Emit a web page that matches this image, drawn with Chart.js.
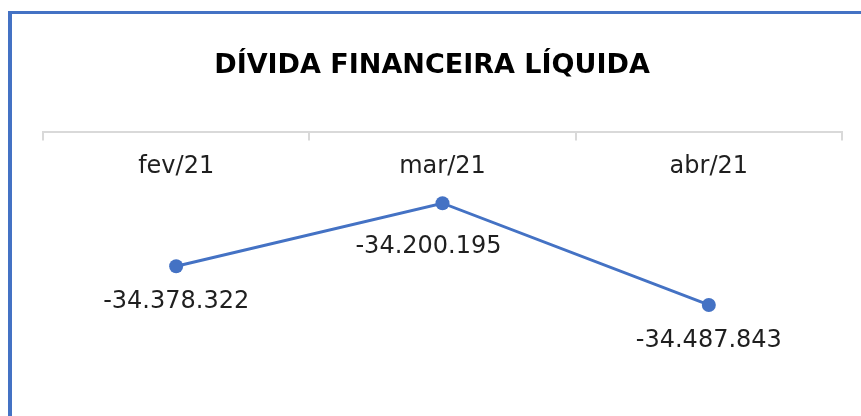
<!DOCTYPE html>
<html lang="pt-BR">
<head>
<meta charset="utf-8">
<title>Dívida Financeira Líquida</title>
<script src="https://cdn.jsdelivr.net/npm/chart.js@4.4.1/dist/chart.umd.min.js"></script>
<style>
  html, body { margin: 0; padding: 0; background: #fff; overflow: hidden; }
  #frame {
    position: absolute;
    left: 8px;
    top: 11px;
    width: 1000px;
    height: 600px;
    border-left: 4px solid #4472c4;
    border-top: 3px solid #4472c4;
  }
  #chart { position: absolute; left: 0; top: 0; }
</style>
</head>
<body>
<div id="frame"></div>
<canvas id="chart" width="861" height="416"></canvas>
<script>
const chartTitle = "DÍVIDA FINANCEIRA LÍQUIDA";
const months = ["fev/21", "mar/21", "abr/21"];
const netDebt = [-34378322, -34200195, -34487843];

// pt-BR style number: -34.378.322
function formatNumber(v) {
  const sign = v < 0 ? "-" : "";
  return sign + String(Math.abs(v)).replace(/\B(?=(\d{3})+(?!\d))/g, ".");
}

// small data label plugin (no datalabels plugin available offline)
const valueLabels = {
  id: "valueLabels",
  afterDatasetsDraw(chart, args, opts) {
    const ctx = chart.ctx;
    ctx.save();
    ctx.font = opts.font;
    ctx.fillStyle = opts.color;
    ctx.textAlign = "center";
    ctx.textBaseline = "middle";
    chart.data.datasets.forEach((ds, i) => {
      const meta = chart.getDatasetMeta(i);
      meta.data.forEach((pt, j) => {
        const shift = opts.shift[j] || [0, 0];
        ctx.fillText(formatNumber(ds.data[j]), pt.x + shift[0], pt.y + opts.offset + shift[1]);
      });
    });
    ctx.restore();
  },
};

new Chart(document.getElementById("chart"), {
  type: "line",
  data: {
    labels: months,
    datasets: [
      {
        data: netDebt,
        borderColor: "#4472c4",
        backgroundColor: "#4472c4",
        borderWidth: 3,
        pointRadius: 7,
        pointHoverRadius: 7,
        pointBorderWidth: 0,
        tension: 0,
      },
    ],
  },
  options: {
    responsive: false,
    animation: false,
    layout: { padding: { left: 22, right: 19, top: 0, bottom: 36 } },
    plugins: {
      legend: { display: false },
      tooltip: { enabled: false },
      title: {
        display: true,
        text: chartTitle,
        color: "#000",
        font: { family: "DejaVu Sans", size: 27, weight: "bold" },
        padding: { top: 50, bottom: 18 },
      },
      valueLabels: {
        font: "24px 'DejaVu Sans'",
        color: "#1f1f1f",
        offset: 36,
        shift: [[0, 0], [-14, 8], [0, 0]],
      },
    },
    scales: {
      x: {
        position: "top",
        offset: true,
        grid: {
          offset: true,
          drawOnChartArea: false,
          tickLength: -8,
          color: "#d9d9d9",
          lineWidth: 2,
        },
        border: { color: "#d9d9d9", width: 2 },
        ticks: {
          mirror: true,
          padding: 20,
          maxRotation: 0,
          color: "#1f1f1f",
          font: { family: "DejaVu Sans", size: 24 },
        },
      },
      y: {
        display: true,
        min: -34700000,
        max: -34000000,
        grid: { display: false },
        border: { display: false },
        ticks: { display: false },
        afterFit(scale) {
          scale.width = 21;
        },
      },
    },
  },
  plugins: [valueLabels],
});
</script>
</body>
</html>
